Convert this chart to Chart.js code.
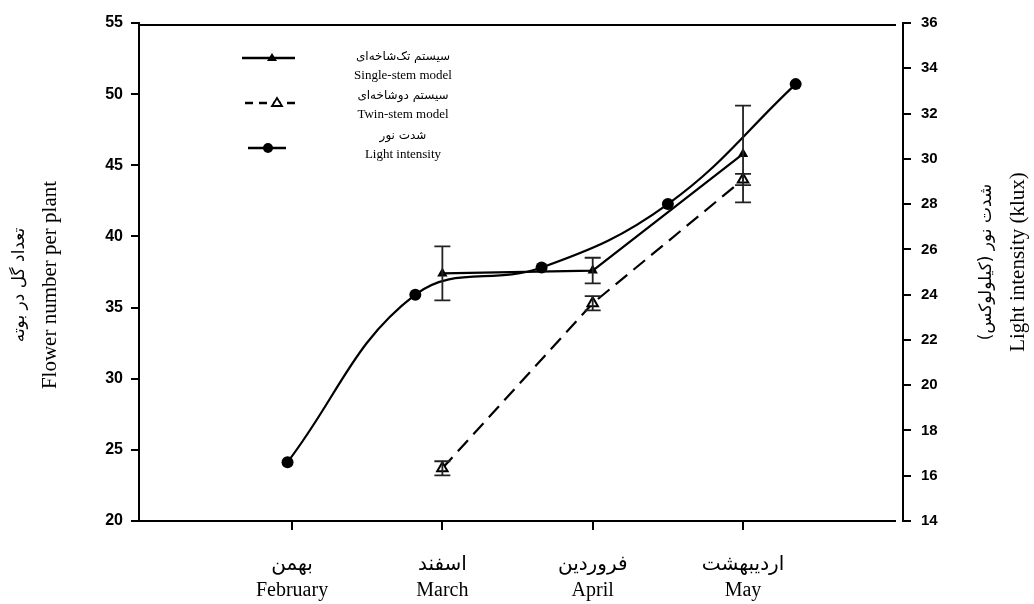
<!DOCTYPE html>
<html><head><meta charset="utf-8">
<script src="https://cdn.jsdelivr.net/npm/chart.js@4/dist/chart.umd.min.js"></script>
<style>html,body{margin:0;padding:0;background:#fff;}#wrap{width:1034px;height:604px;}</style>
</head><body><div id="wrap"><canvas id="c" width="1034" height="604"></canvas></div>
<script>
// ---- data ----
const monthPositions = [1, 2, 3, 4];
const monthLabelsFa = ['بهمن', 'اسفند', 'فروردین', 'اردیبهشت'];
const monthLabelsEn = ['February', 'March', 'April', 'May'];
const stemX = [2, 3, 4];
const singleStem = [37.4, 37.6, 45.8];
const singleStemErr = [1.9, 0.9, 3.4];
const twinStem = [23.7, 35.3, 44.0];
const twinStemErr = [0.5, 0.5, 0.4];
const lightX = [0.97, 1.82, 2.66, 3.50, 4.35];
const lightIntensity = [16.6, 24.0, 25.2, 28.0, 33.3];
const leftTicks = [20, 25, 30, 35, 40, 45, 50, 55];
const rightTicks = [14, 16, 18, 20, 22, 24, 26, 28, 30, 32, 34, 36];
const legendFa = ['سیستم تک‌شاخه‌ای', 'سیستم دوشاخه‌ای', 'شدت نور'];
const legendEn = ['Single-stem model', 'Twin-stem model', 'Light intensity'];
const leftTitle = ['تعداد گل در بوته', 'Flower number per plant'];
const rightTitle = ['شدت نور (کیلولوکس)', 'Light intensity (klux)'];

const SERIF = "'Liberation Serif', 'DejaVu Sans', serif";
const toPts = (xs, ys) => xs.map((x, i) => ({x: x, y: ys[i]}));

const errorBars = {
  id: 'errorBars',
  afterDatasetsDraw(chart) {
    const ctx = chart.ctx;
    chart.data.datasets.forEach((ds) => {
      if (!ds.errors) return;
      const xs = chart.scales.x, ys = chart.scales[ds.yAxisID || 'y'];
      ds.data.forEach((p, i) => {
        const e = ds.errors[i];
        const px = xs.getPixelForValue(p.x);
        const t = ys.getPixelForValue(p.y + e), b = ys.getPixelForValue(p.y - e);
        ctx.save();
        ctx.strokeStyle = '#222'; ctx.lineWidth = 1.8;
        ctx.beginPath();
        ctx.moveTo(px, t); ctx.lineTo(px, b);
        ctx.moveTo(px - 8, t); ctx.lineTo(px + 8, t);
        ctx.moveTo(px - 8, b); ctx.lineTo(px + 8, b);
        ctx.stroke();
        ctx.restore();
      });
    });
  }
};

const frame = {
  id: 'frame',
  afterDraw(chart) {
    const ctx = chart.ctx, a = chart.chartArea;
    ctx.save();
    ctx.strokeStyle = '#000'; ctx.lineWidth = 2;
    ctx.beginPath();
    ctx.moveTo(a.left, a.top + 2); ctx.lineTo(a.right - 7, a.top + 2);
    ctx.moveTo(a.left, a.bottom); ctx.lineTo(a.right - 7, a.bottom);
    ctx.stroke();
    ctx.restore();
  }
};

const legendAndTitles = {
  id: 'legendAndTitles',
  afterDraw(chart) {
    const ctx = chart.ctx;
    ctx.save();
    ctx.fillStyle = '#000'; ctx.strokeStyle = '#000';
    // legend symbols
    ctx.lineWidth = 2.5;
    ctx.beginPath(); ctx.moveTo(242, 58); ctx.lineTo(295, 58); ctx.stroke();
    ctx.beginPath(); ctx.moveTo(272, 53); ctx.lineTo(277, 61); ctx.lineTo(267, 61); ctx.closePath(); ctx.fill();
    ctx.setLineDash([8, 6]);
    ctx.beginPath(); ctx.moveTo(245, 103); ctx.lineTo(296, 103); ctx.stroke();
    ctx.setLineDash([]);
    ctx.fillStyle = '#fff'; ctx.lineWidth = 1.8;
    ctx.beginPath(); ctx.moveTo(277, 98); ctx.lineTo(282, 106); ctx.lineTo(272, 106); ctx.closePath(); ctx.fill(); ctx.stroke();
    ctx.fillStyle = '#000'; ctx.lineWidth = 2.5;
    ctx.beginPath(); ctx.moveTo(248, 148); ctx.lineTo(286, 148); ctx.stroke();
    ctx.beginPath(); ctx.arc(268, 148, 5, 0, Math.PI * 2); ctx.fill();
    // legend text
    ctx.textAlign = 'center'; ctx.textBaseline = 'middle';
    const ty = [[57, 76], [96, 115], [136, 155]];
    for (let i = 0; i < 3; i++) {
      ctx.font = "12px 'DejaVu Sans', sans-serif";
      ctx.fillText(legendFa[i], 403, ty[i][0]);
      ctx.font = "13px 'Liberation Serif', serif";
      ctx.fillText(legendEn[i], 403, ty[i][1]);
    }
    // axis titles (rotated, reading bottom-to-top)
    const drawRot = (text, x, y, font) => {
      ctx.save(); ctx.translate(x, y); ctx.rotate(-Math.PI / 2);
      ctx.font = font; ctx.textAlign = 'center'; ctx.textBaseline = 'middle';
      ctx.fillText(text, 0, 0); ctx.restore();
    };
    drawRot(leftTitle[0], 20, 285, "17px 'DejaVu Sans', sans-serif");
    drawRot(leftTitle[1], 50, 285, "21px 'Liberation Serif', serif");
    drawRot(rightTitle[0], 987, 262, "17px 'DejaVu Sans', sans-serif");
    drawRot(rightTitle[1], 1018, 262, "21px 'Liberation Serif', serif");
    ctx.restore();
  }
};

const axisCommon = {
  grid: {drawOnChartArea: false, drawTicks: true, tickLength: 8, color: '#000', lineWidth: 2},
  border: {display: true, color: '#000', width: 2},
};

new Chart(document.getElementById('c'), {
  type: 'line',
  data: {
    datasets: [
      {
        label: legendEn[2], data: toPts(lightX, lightIntensity), yAxisID: 'y1',
        borderColor: '#000', backgroundColor: '#000', borderWidth: 2.2, tension: 0.4,
        pointStyle: 'circle', pointRadius: 6, pointBackgroundColor: '#000', pointBorderWidth: 0
      },
      {
        label: legendEn[0], data: toPts(stemX, singleStem), yAxisID: 'y', errors: singleStemErr,
        borderColor: '#000', backgroundColor: '#000', borderWidth: 2.2, tension: 0,
        pointStyle: 'triangle', pointRadius: 6, pointBackgroundColor: '#000', pointBorderWidth: 0
      },
      {
        label: legendEn[1], data: toPts(stemX, twinStem), yAxisID: 'y', errors: twinStemErr,
        borderColor: '#000', backgroundColor: '#fff', borderWidth: 2.2, borderDash: [15, 8], tension: 0,
        pointStyle: 'triangle', pointRadius: 6, pointBackgroundColor: '#fff', pointBorderColor: '#000', pointBorderWidth: 2
      }
    ]
  },
  options: {
    responsive: false, animation: false, devicePixelRatio: 1,
    layout: {padding: {top: 23, left: 0, right: 0, bottom: 0}},
    plugins: {legend: {display: false}, tooltip: {enabled: false}, title: {display: false}},
    scales: {
      x: {
        type: 'linear', position: 'bottom', min: -0.018, max: 5.064,
        afterBuildTicks: (s) => { s.ticks = monthPositions.map(v => ({value: v})); },
        afterFit: (s) => { s.height = 83; },
        grid: {drawOnChartArea: false, drawTicks: true, tickLength: 9, color: '#000', lineWidth: 2},
        border: {display: false},
        ticks: {
          autoSkip: false, maxRotation: 0, padding: 22, color: '#000',
          font: {family: SERIF, size: 20, lineHeight: 1.3},
          callback: (v) => { const i = monthPositions.indexOf(v); return i < 0 ? '' : [monthLabelsFa[i], monthLabelsEn[i]]; }
        }
      },
      y: Object.assign({}, axisCommon, {
        position: 'left', min: 20, max: 55,
        afterBuildTicks: (s) => { s.ticks = leftTicks.map(v => ({value: v})); },
        afterFit: (s) => { s.width = 139; },
        ticks: {color: '#000', padding: 8, font: {family: "'Liberation Sans', Arial, sans-serif", size: 16, weight: 'bold'}}
      }),
      y1: Object.assign({}, axisCommon, {
        position: 'right', min: 14, max: 36,
        afterBuildTicks: (s) => { s.ticks = rightTicks.map(v => ({value: v})); },
        afterFit: (s) => { s.width = 131; },
        ticks: {color: '#000', padding: 10, font: {family: "'Liberation Sans', Arial, sans-serif", size: 15, weight: 'bold'}}
      })
    }
  },
  plugins: [errorBars, frame, legendAndTitles]
});
</script>
</body></html>
